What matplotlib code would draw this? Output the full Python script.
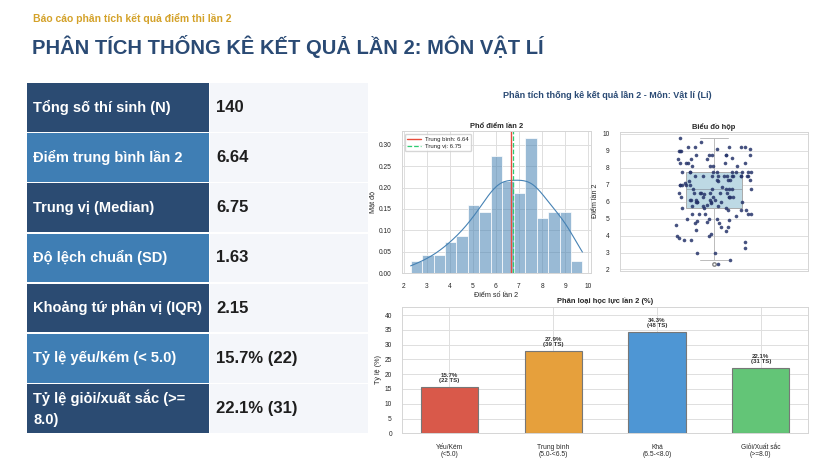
import matplotlib
matplotlib.use("Agg")
import matplotlib.pyplot as plt
from matplotlib.patches import Rectangle
import numpy as np
import seaborn as sns

# ---- data ----
scores = [
    2.3, 2.55,
    3.0, 3.0, 3.25,
    3.6, 3.75, 3.75,
    3.85, 4.0, 4.0, 4.1, 4.25,
    4.35, 4.5, 4.5, 4.6, 4.75, 4.75,
    4.8, 4.85, 4.9, 5.0, 5.0, 5.0, 5.15, 5.25, 5.25, 5.25, 5.25,
    5.3, 5.5, 5.5, 5.5, 5.6, 5.6, 5.6, 5.75, 5.75, 5.75,
    5.8, 5.9, 6.0, 6.0, 6.0, 6.0, 6.0, 6.0, 6.1, 6.1, 6.1, 6.1, 6.1,
    6.25, 6.25, 6.25, 6.25, 6.25, 6.25,
    6.3, 6.45, 6.5, 6.5, 6.5, 6.5, 6.5, 6.5, 6.5,
    6.75, 6.75, 6.75, 6.75, 6.75, 6.75,
    6.85, 7.0, 7.0, 7.0, 7.0, 7.0, 7.1, 7.2, 7.2, 7.25, 7.25, 7.25, 7.25,
    7.5, 7.5, 7.5, 7.5, 7.5, 7.5, 7.5, 7.5, 7.5, 7.5, 7.5, 7.5,
    7.75, 7.75, 7.75, 7.75, 7.75, 7.75, 7.75, 7.75, 7.75, 7.75,
    8.1, 8.1, 8.1, 8.1, 8.25, 8.25, 8.25, 8.25, 8.25,
    8.5, 8.5, 8.5, 8.55, 8.75, 8.75, 8.75, 8.75, 8.75, 8.75,
    9.0, 9.0, 9.0, 9.1, 9.1, 9.25, 9.25, 9.25, 9.25, 9.25,
    9.5, 9.75,
]
mean_score = 6.64
median_score = 6.75

stat_labels = ["Tổng số thí sinh (N)", "Điểm trung bình lần 2", "Trung vị (Median)",
               "Độ lệch chuẩn (SD)", "Khoảng tứ phân vị (IQR)", "Tỷ lệ yếu/kém (< 5.0)",
               "Tỷ lệ giỏi/xuất sắc (>=\n8.0)"]
stat_values = ["140", "6.64", "6.75", "1.63", "2.15", "15.7% (22)", "22.1% (31)"]

level_names = ["Yếu/Kém\n(<5.0)", "Trung bình\n(5.0-<6.5)", "Khá\n(6.5-<8.0)", "Giỏi/Xuất sắc\n(>=8.0)"]
level_counts = [22, 39, 48, 31]
level_colors = ["#d9594a", "#e6a03c", "#4e96d4", "#63c577"]

sns.set_theme(style="whitegrid")
plt.rcParams["font.family"] = ["Liberation Sans", "DejaVu Sans"]
plt.rcParams["axes.edgecolor"] = "#d5d5d5"
plt.rcParams["grid.color"] = "#dedede"

fig = plt.figure(figsize=(8.4, 4.7), dpi=100)
fig.patch.set_facecolor("white")

# slide layer in pixel coords
bg = fig.add_axes([0, 0, 1, 1])
bg.set_xlim(0, 840)
bg.set_ylim(470, 0)
bg.axis("off")

bg.text(33, 19, "Báo cáo phân tích kết quả điểm thi lần 2", color="#d4a22a",
        fontsize=7.5, fontweight="bold", va="center")
bg.text(32, 47, "PHÂN TÍCH THỐNG KÊ KẾT QUẢ LẦN 2: MÔN VẬT LÍ", color="#2a4a74",
        fontsize=14.5, fontweight="bold", va="center")

# stats table
row_top = 83
row_h = 50.2
for i, (lab, val) in enumerate(zip(stat_labels, stat_values)):
    y0 = row_top + i * row_h
    c = "#2b4b72" if i % 2 == 0 else "#3f7eb4"
    bg.add_patch(Rectangle((27, y0), 182, row_h - 1.6, facecolor=c, edgecolor="none"))
    bg.add_patch(Rectangle((210, y0), 158, row_h - 1.6, facecolor="#f4f6fa", edgecolor="none"))
    bg.text(33, y0 + row_h / 2 - 0.8, lab, color="white", fontsize=10.5,
            fontweight="bold", va="center", linespacing=1.6)
    bg.text(216, y0 + row_h / 2 - 0.8, val, color="#1e1e1e", fontsize=12,
            fontweight="bold", va="center")

fig.text(0.723, 0.796, "Phân tích thống kê kết quả lần 2 - Môn: Vật lí (Lí)",
         ha="center", va="center", fontsize=6.5, fontweight="bold", color="#2a4a74")

tick_fs = 4.8
lab_fs = 5.2

# histogram
ax1 = fig.add_axes([0.4786, 0.4191, 0.225, 0.302])
sns.histplot(scores, bins=15, stat="density", kde=True, color="steelblue", alpha=0.55,
             edgecolor="white", linewidth=0.5, line_kws={"linewidth": 0.8}, ax=ax1)
ax1.axvline(mean_score, color="#e74c3c", linewidth=1.0, label=f"Trung bình: {mean_score:.2f}")
ax1.axvline(median_score, color="#2ecc71", linewidth=0.9, linestyle="--",
            label=f"Trung vị: {median_score:.2f}")
ax1.set_title("Phổ điểm lần 2", fontsize=5.4, fontweight="bold", pad=2)
ax1.set_xlabel("Điểm số lần 2", fontsize=lab_fs, labelpad=1)
ax1.set_ylabel("Mật độ", fontsize=lab_fs, labelpad=2)
ax1.tick_params(labelsize=tick_fs, pad=1.5)
ax1.legend(loc="upper left", fontsize=4.3, frameon=True, handlelength=2.2,
           borderpad=0.4, labelspacing=0.3)
for s in ax1.spines.values():
    s.set_linewidth(0.7)
ax1.grid(linewidth=0.7)

# box plot + strip
ax2 = fig.add_axes([0.738, 0.424, 0.2238, 0.2957])
sns.boxplot(y=scores, ax=ax2, color="#b7dcea", width=0.3, linewidth=0.7,
            flierprops={"marker": "o", "markersize": 2.5, "markeredgecolor": "#888888",
                        "markerfacecolor": "white"},
            boxprops={"edgecolor": "#aaaaaa"}, whiskerprops={"color": "#bbbbbb"},
            capprops={"color": "#bbbbbb"}, medianprops={"color": "#9aaab5"})
np.random.seed(3)
sns.stripplot(y=scores, ax=ax2, color="#26346a", size=2.6, jitter=0.21, alpha=0.85)
ax2.set_title("Biểu đồ hộp", fontsize=5.4, fontweight="bold", pad=2)
ax2.set_ylabel("Điểm lần 2", fontsize=lab_fs, labelpad=2)
ax2.set_yticks(range(2, 11))
ax2.set_xticks([])
ax2.tick_params(labelsize=tick_fs, pad=1.5)
for s in ax2.spines.values():
    s.set_linewidth(0.7)
ax2.grid(linewidth=0.7)

# classification bars
total = sum(level_counts)
pcts = [c / total * 100 for c in level_counts]
ax3 = fig.add_axes([0.479, 0.0781, 0.4826, 0.2694])
xs = np.arange(len(level_names))
ax3.bar(xs, pcts, width=0.55, color=level_colors, edgecolor="#777777", linewidth=0.8)
for x, p, c in zip(xs, pcts, level_counts):
    ax3.text(x, p + 1.3, f"{p:.1f}%\n({c} TS)", ha="center", va="bottom",
             fontsize=4.4, fontweight="bold", color="#333333", linespacing=1.1)
ax3.set_xticks(xs)
ax3.set_xticklabels(level_names, fontsize=tick_fs, linespacing=1.1)
ax3.set_ylim(0, max(pcts) * 1.25)
ax3.set_yticks(range(0, 41, 5))
ax3.set_title("Phân loại học lực lần 2 (%)", fontsize=5.4, fontweight="bold", pad=3)
ax3.set_ylabel("Tỷ lệ (%)", fontsize=lab_fs, labelpad=2)
ax3.tick_params(labelsize=tick_fs, pad=1.5)
for s in ax3.spines.values():
    s.set_linewidth(0.7)
ax3.grid(linewidth=0.7)

fig.savefig("out.png", dpi=100)
